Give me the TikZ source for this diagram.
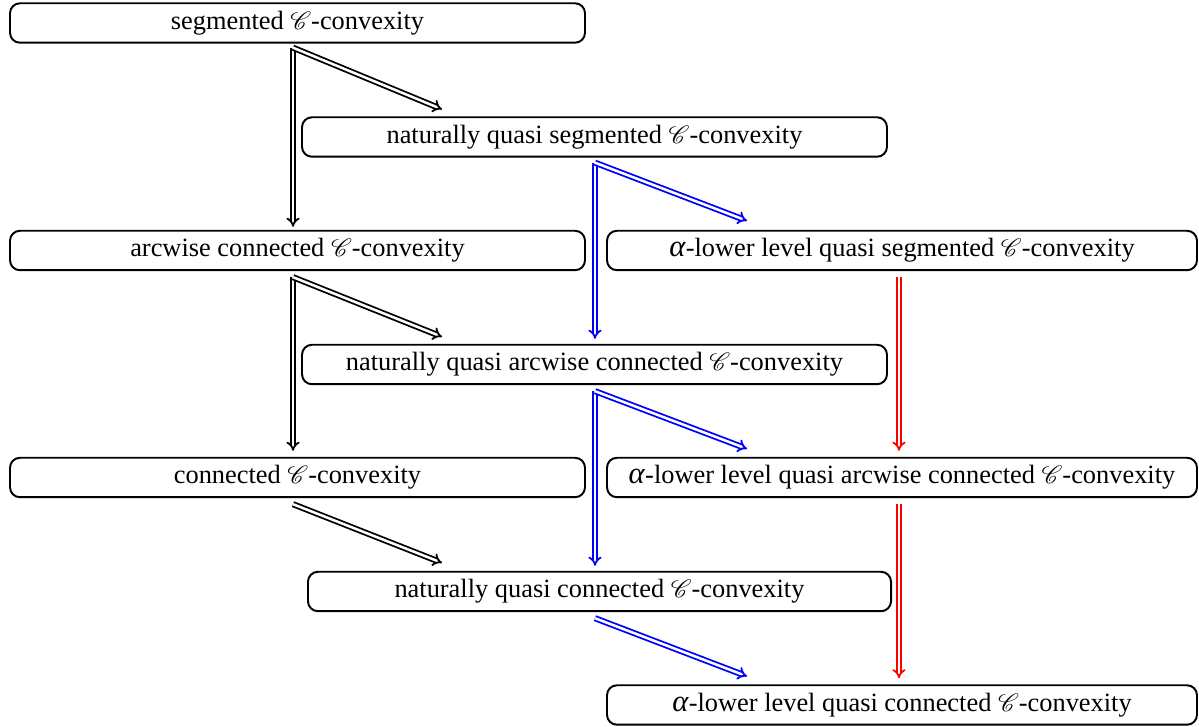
\documentclass[tikz,border=0pt]{standalone}
\usepackage{mathrsfs}
\usepackage{fontspec}
\setmainfont{Liberation Serif}
\usetikzlibrary{arrows.meta,calc}
\newcommand{\Cs}{$\mathscr{C}$}
\newcommand{\al}{{\fontsize{11}{12}\selectfont\textit{α}}}
\tikzset{
  box/.style={draw, line width=0.7pt, rounded corners=3.6pt, minimum height=14.2pt, inner sep=0pt, font=\fontsize{9.5}{11}\selectfont},
  lw/.style={minimum width=207pt},
  mw/.style={minimum width=210.6pt},
  rw/.style={minimum width=212.4pt},
  imp/.style={double, line width=0.65pt, double distance=0.9pt, -{Implies}},
  impk/.style={imp, draw=black},
  impb/.style={imp, draw=blue},
  impr/.style={imp, draw=red},
}
\begin{document}
\begin{tikzpicture}[x=0.36pt, y=-0.36pt]
\useasboundingbox (0,0) rectangle (1199,727);
\node[box,lw] (n1) at (297.5,23) {segmented \Cs-convexity};
\node[box,mw] (n2) at (594.5,137) {naturally quasi segmented \Cs-convexity};
\node[box,lw] (n3) at (297.5,250.5) {arcwise connected \Cs-convexity};
\node[box,rw] (n4) at (902,250.5) {\al-lower level quasi segmented \Cs-convexity};
\node[box,mw] (n5) at (594.5,364.5) {naturally quasi arcwise connected \Cs-convexity};
\node[box,lw] (n6) at (297.5,477.5) {connected \Cs-convexity};
\node[box,rw] (n7) at (902,477.5) {\al-lower level quasi arcwise connected \Cs-convexity};
\node[box,minimum width=209.9pt] (n8) at (599.5,591.5) {naturally quasi connected \Cs-convexity};
\node[box,rw] (n9) at (902,705) {\al-lower level quasi connected \Cs-convexity};
% start and end points
\coordinate (a1) at ($(n1.south west)+(284,4)$);
\coordinate (a2) at ($(n3.south west)+(284,6)$);
\coordinate (a3) at ($(n6.south west)+(284,6)$);
\coordinate (b1) at ($(n2.south west)+(294,5)$);
\coordinate (b2) at ($(n5.south west)+(294,6)$);
\coordinate (b3) at ($(n8.south west)+(288,6)$);
\coordinate (r1) at ($(n4.south)+(-3,6)$);
\coordinate (r2) at ($(n7.south)+(-3,6)$);
% black
\draw[impk] (a1) -- ($(a1|-n3.north)+(0,-3)$);
\draw[impk] (a1) -- ($(n2.north west)+(141,-7)$);
\draw[impk] (a2) -- ($(a2|-n6.north)+(0,-6)$);
\draw[impk] (a2) -- ($(n5.north west)+(141,-7)$);
\draw[impk] (a3) -- ($(n8.north west)+(135,-8)$);
% blue
\draw[impb] (b1) -- ($(b1|-n5.north)+(0,-5)$);
\draw[impb] (b1) -- ($(n4.north west)+(141,-9)$);
\draw[impb] (b2) -- ($(b2|-n8.north)+(0,-5)$);
\draw[impb] (b2) -- ($(n7.north west)+(141,-8)$);
\draw[impb] (b3) -- ($(n9.north west)+(141,-8)$);
% red
\draw[impr] (r1) -- ($(r1|-n7.north)+(0,-6)$);
\draw[impr] (r2) -- ($(r2|-n9.north)+(0,-6)$);
\end{tikzpicture}
\end{document}
